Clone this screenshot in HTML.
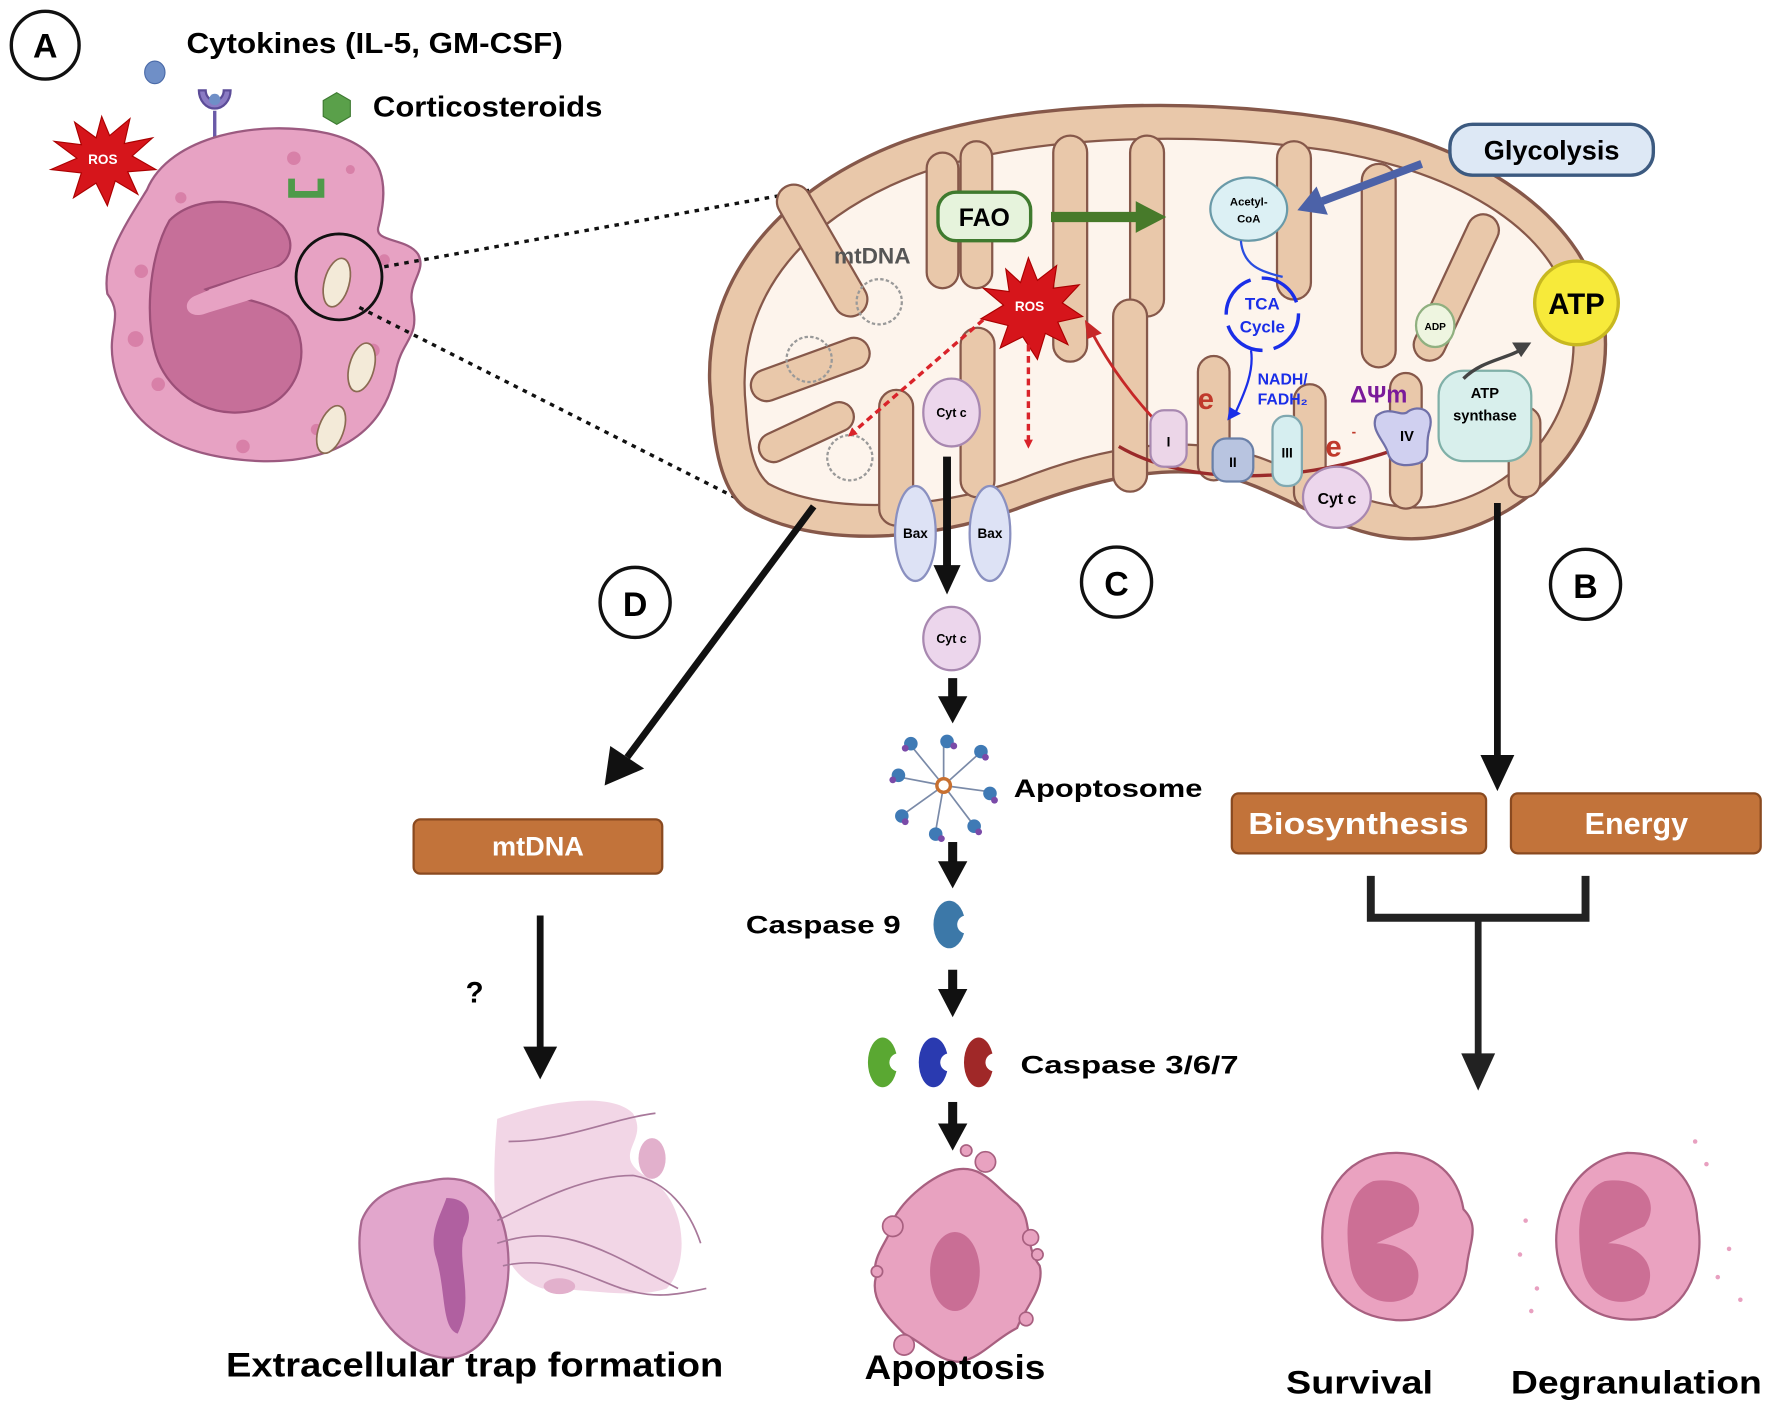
<!DOCTYPE html>
<html><head><meta charset="utf-8"><style>
html,body{margin:0;padding:0;background:#fff;}
svg{display:block;}
text{font-family:"Liberation Sans",sans-serif;font-weight:bold;}
</style></head><body>
<svg width="1772" height="1406" viewBox="0 0 1568 1244" preserveAspectRatio="none" xmlns="http://www.w3.org/2000/svg">
<defs>
<marker id="rd" markerWidth="8" markerHeight="8" refX="6" refY="4" orient="auto" markerUnits="userSpaceOnUse"><path d="M0,0 L8,4 L0,8z" fill="#d9232a"/></marker>
</defs>
<rect width="1568" height="1244" fill="#fff"/>

<!-- A cell -->
<circle cx="40" cy="40" r="30" fill="#fff" stroke="#111" stroke-width="3"/>
<text x="40" y="51" font-size="30" text-anchor="middle">A</text>
<text x="165" y="47" font-size="25" textLength="333" lengthAdjust="spacingAndGlyphs">Cytokines (IL-5, GM-CSF)</text>
<ellipse cx="137" cy="64" rx="9" ry="10" fill="#6f8fc7" stroke="#4a6aa8"/>
<line x1="190" y1="98" x2="190" y2="170" stroke="#6a5aa8" stroke-width="3"/>
<path d="M176,80 A14,16 0 0 0 204,80 L198,80 A8,9 0 0 1 182,80Z" fill="#8b7bc4" stroke="#5c4c98" stroke-width="2"/>
<circle cx="190" cy="88" r="5" fill="#6f8fc7"/>
<polygon points="298,82 310,89 310,103 298,110 286,103 286,89" fill="#5aa04a" stroke="#3e7a32"/>
<text x="330" y="103" font-size="25" textLength="203" lengthAdjust="spacingAndGlyphs">Corticosteroids</text>

<path d="M130,168 C150,120 230,105 290,118 C340,130 345,160 335,200 C330,215 360,210 370,225 C378,240 360,250 365,270 C372,300 355,300 350,330 C340,380 300,410 230,408 C160,405 110,380 100,320 C95,290 110,280 95,260 C90,230 110,200 130,168Z" fill="#e7a2c3" stroke="#9c5a80" stroke-width="2"/>
<path d="M150,195 C175,170 225,175 250,200 C262,215 258,232 240,238 C215,245 200,250 182,256 C190,262 230,262 255,280 C275,300 270,345 235,360 C195,375 155,355 140,320 C128,290 130,230 150,195Z" fill="#c66f99" stroke="#9c4f78" stroke-width="2"/>
<path d="M172,262 C200,250 230,240 262,232 C275,230 278,245 265,250 C235,262 205,270 180,278 C165,282 160,268 172,262Z" fill="#e7a2c3"/>
<g fill="#d880a8"><circle cx="125" cy="240" r="6"/><circle cx="120" cy="300" r="7"/><circle cx="140" cy="340" r="6"/><circle cx="215" cy="395" r="6"/><circle cx="280" cy="380" r="5"/><circle cx="330" cy="310" r="6"/><circle cx="340" cy="230" r="5"/><circle cx="260" cy="140" r="6"/><circle cx="160" cy="175" r="5"/><circle cx="310" cy="150" r="4"/></g>
<path d="M258,158 v14 h26 v-14" fill="none" stroke="#4f9a4a" stroke-width="6"/>
<g fill="#f3ead8" stroke="#8a6a52" stroke-width="1.5"><ellipse cx="298" cy="250" rx="11" ry="22" transform="rotate(15 298 250)"/><ellipse cx="320" cy="325" rx="11" ry="22" transform="rotate(15 320 325)"/><ellipse cx="293" cy="380" rx="11" ry="22" transform="rotate(20 293 380)"/></g>
<circle cx="300" cy="245" r="38" fill="none" stroke="#111" stroke-width="2.5"/>
<line x1="340" y1="236" x2="735" y2="165" stroke="#111" stroke-width="3" stroke-dasharray="4,5"/>
<line x1="318" y1="272" x2="680" y2="455" stroke="#111" stroke-width="3" stroke-dasharray="4,5"/>
<polygon points="90,103 97,120 115,105 110,127 135,122 117,138 138,150 113,152 122,172 102,160 95,182 85,162 65,175 72,153 45,150 68,140 48,125 72,128 66,108 85,122" fill="#d6151b" stroke="#a00"/>
<text x="91" y="145" font-size="12" fill="#fff" text-anchor="middle">ROS</text>

<!-- Mitochondrion -->
<path d="M630,360 C615,260 680,170 800,125 C900,90 1050,85 1180,105 C1300,125 1410,190 1420,290 C1428,380 1360,460 1270,475 C1210,485 1160,450 1110,430 C1050,405 980,420 900,450 C820,480 720,485 660,450 C640,435 632,400 630,360Z" fill="#e9c8aa" stroke="#86584a" stroke-width="3"/>
<path d="M660,360 C650,270 705,195 810,155 C905,120 1050,115 1175,133 C1290,152 1385,205 1392,290 C1398,370 1345,435 1270,448 C1215,455 1170,425 1115,405 C1050,382 975,395 900,425 C825,452 730,455 680,428 C665,415 662,390 660,360Z" fill="#fdf4ec" stroke="#86584a" stroke-width="2"/>
<g fill="#e9c8aa" stroke="#86584a" stroke-width="2">
<rect x="700" y="160" width="30" height="130" rx="15" transform="rotate(-30 715 200)"/>
<rect x="820" y="135" width="28" height="120" rx="14"/>
<rect x="850" y="125" width="28" height="130" rx="14"/>
<rect x="932" y="120" width="30" height="200" rx="15"/>
<rect x="1000" y="120" width="30" height="160" rx="15"/>
<rect x="1130" y="125" width="30" height="140" rx="15"/>
<rect x="1205" y="145" width="30" height="180" rx="15"/>
<rect x="1300" y="190" width="28" height="140" rx="14" transform="rotate(25 1314 200)"/>
<rect x="665" y="330" width="110" height="28" rx="14" transform="rotate(-20 670 344)"/>
<rect x="672" y="385" width="90" height="26" rx="13" transform="rotate(-25 680 398)"/>
<rect x="778" y="345" width="30" height="120" rx="15"/>
<rect x="850" y="290" width="30" height="150" rx="15"/>
<rect x="985" y="265" width="30" height="170" rx="15"/>
<rect x="1060" y="315" width="28" height="110" rx="14"/>
<rect x="1145" y="340" width="28" height="110" rx="14"/>
<rect x="1230" y="330" width="28" height="120" rx="14"/>
<rect x="1335" y="360" width="28" height="80" rx="14"/>
</g>
<g fill="none" stroke="#999" stroke-width="2" stroke-dasharray="3,2"><circle cx="778" cy="267" r="20"/><circle cx="716" cy="318" r="20"/><circle cx="752" cy="405" r="20"/></g>
<text x="738" y="233" font-size="20" fill="#555">mtDNA</text>
<rect x="830" y="170" width="82" height="43" rx="16" fill="#e6f3dc" stroke="#3f7a2e" stroke-width="3"/>
<text x="871" y="200" font-size="22" text-anchor="middle">FAO</text>
<line x1="930" y1="192" x2="1008" y2="192" stroke="#477a2a" stroke-width="9"/>
<polygon points="1005,178 1032,192 1005,206" fill="#477a2a"/>
<ellipse cx="1105" cy="185" rx="34" ry="28" fill="#dcf0f4" stroke="#6a9aa8" stroke-width="2"/>
<text x="1105" y="182" font-size="10" text-anchor="middle">Acetyl-</text>
<text x="1105" y="197" font-size="10" text-anchor="middle">CoA</text>
<rect x="1283" y="110" width="180" height="45" rx="20" fill="#dde8f5" stroke="#3c5a80" stroke-width="3"/>
<text x="1373" y="141" font-size="24" text-anchor="middle">Glycolysis</text>
<line x1="1258" y1="145" x2="1170" y2="178" stroke="#4c62a8" stroke-width="7"/>
<polygon points="1148,186 1165,165 1175,190" fill="#4c62a8"/>
<path d="M1098,213 C1100,235 1115,240 1135,245" fill="none" stroke="#2a4ee0" stroke-width="2"/>
<circle cx="1117" cy="278" r="32" fill="none" stroke="#1a2ee8" stroke-width="3" stroke-dasharray="40,10"/>
<text x="1117" y="274" font-size="15" fill="#1a2ee8" text-anchor="middle">TCA</text>
<text x="1117" y="294" font-size="15" fill="#1a2ee8" text-anchor="middle">Cycle</text>
<path d="M1107,310 C1110,330 1100,350 1092,368" fill="none" stroke="#1a2ee8" stroke-width="2"/>
<polygon points="1086,372 1088,360 1098,366" fill="#1a2ee8"/>
<text x="1135" y="340" font-size="14" fill="#1a2ee8" text-anchor="middle">NADH/</text>
<text x="1135" y="358" font-size="14" fill="#1a2ee8" text-anchor="middle">FADH₂</text>
<text x="1220" y="356" font-size="21" fill="#7a1a9a" text-anchor="middle">ΔΨm</text>
<polygon points="910,228 918,248 935,235 932,255 955,252 940,268 958,280 936,285 945,305 925,295 918,318 905,298 885,308 892,288 868,282 888,270 870,255 893,258 890,238 903,250" fill="#d6151b" stroke="#a00"/>
<text x="911" y="275" font-size="12" fill="#fff" text-anchor="middle">ROS</text>
<path d="M870,283 L752,385" stroke="#d9232a" stroke-width="3" stroke-dasharray="6,4" marker-end="url(#rd)"/>
<path d="M910,305 L910,395" stroke="#d9232a" stroke-width="3" stroke-dasharray="6,4" marker-end="url(#rd)"/>
<path d="M1030,380 C1000,350 980,320 965,292" fill="none" stroke="#c62828" stroke-width="2.5"/>
<polygon points="960,283 975,295 962,300" fill="#c62828"/>
<path d="M990,395 C1050,430 1150,430 1248,393" fill="none" stroke="#9a2a2a" stroke-width="3"/>
<polygon points="1256,388 1240,388 1246,400" fill="#9a2a2a"/>
<text x="1067" y="362" font-size="26" fill="#c0392b" text-anchor="middle">e</text>
<text x="1180" y="404" font-size="26" fill="#c0392b" text-anchor="middle">e</text>
<text x="1196" y="386" font-size="12" fill="#c0392b">-</text>
<rect x="1018" y="363" width="32" height="50" rx="12" fill="#ecd6e8" stroke="#a888b0" stroke-width="2"/>
<text x="1034" y="395" font-size="12" text-anchor="middle">I</text>
<rect x="1073" y="388" width="36" height="38" rx="12" fill="#b8c4e0" stroke="#6a80a8" stroke-width="2"/>
<text x="1091" y="413" font-size="12" text-anchor="middle">II</text>
<rect x="1126" y="368" width="26" height="62" rx="12" fill="#d6eef0" stroke="#80a8b0" stroke-width="2"/>
<text x="1139" y="405" font-size="12" text-anchor="middle">III</text>
<path d="M1218,368 C1230,358 1240,370 1246,364 C1255,358 1270,362 1265,380 C1260,395 1268,405 1255,410 C1240,414 1230,410 1228,400 C1225,390 1212,380 1218,368Z" fill="#d0d0f0" stroke="#7070a8" stroke-width="2"/>
<text x="1245" y="390" font-size="13" text-anchor="middle">IV</text>
<ellipse cx="1183" cy="440" rx="30" ry="27" fill="#ecd6ec" stroke="#a888b0" stroke-width="2"/>
<text x="1183" y="446" font-size="14" text-anchor="middle">Cyt c</text>
<rect x="1273" y="328" width="82" height="80" rx="22" fill="#d8efec" stroke="#80b0a8" stroke-width="2"/>
<text x="1314" y="352" font-size="13" text-anchor="middle">ATP</text>
<text x="1314" y="372" font-size="13" text-anchor="middle">synthase</text>
<ellipse cx="1270" cy="288" rx="17" ry="19" fill="#eef5e0" stroke="#90b080" stroke-width="2"/>
<text x="1270" y="292" font-size="9" text-anchor="middle">ADP</text>
<path d="M1295,335 C1310,320 1330,318 1345,310" fill="none" stroke="#444" stroke-width="3"/>
<polygon points="1355,303 1338,303 1346,316" fill="#444"/>
<circle cx="1395" cy="268" r="37" fill="#f7ea3a" stroke="#c8b820" stroke-width="3"/>
<text x="1395" y="278" font-size="26" text-anchor="middle">ATP</text>
<ellipse cx="842" cy="365" rx="25" ry="30" fill="#ecd6ec" stroke="#a888b0" stroke-width="2"/>
<text x="842" y="369" font-size="11" text-anchor="middle">Cyt c</text>
<ellipse cx="810" cy="472" rx="18" ry="42" fill="#dde2f5" stroke="#8a90c0" stroke-width="2"/>
<ellipse cx="876" cy="472" rx="18" ry="42" fill="#dde2f5" stroke="#8a90c0" stroke-width="2"/>
<text x="810" y="476" font-size="12" text-anchor="middle">Bax</text>
<text x="876" y="476" font-size="12" text-anchor="middle">Bax</text>

<!-- main arrows -->
<line x1="838" y1="404" x2="838" y2="505" stroke="#111" stroke-width="7"/>
<polygon points="826,500 850,500 838,526" fill="#111"/>
<line x1="720" y1="448" x2="555" y2="670" stroke="#111" stroke-width="6"/>
<polygon points="535,695 540,660 570,680" fill="#111"/>
<line x1="1325" y1="445" x2="1325" y2="672" stroke="#111" stroke-width="6"/>
<polygon points="1310,668 1340,668 1325,700" fill="#111"/>

<g fill="#fff" stroke="#111" stroke-width="3">
<circle cx="988" cy="515" r="31"/><circle cx="1403" cy="517" r="31"/><circle cx="562" cy="533" r="31"/></g>
<text x="988" y="527" font-size="30" text-anchor="middle">C</text>
<text x="1403" y="529" font-size="30" text-anchor="middle">B</text>
<text x="562" y="545" font-size="30" text-anchor="middle">D</text>

<!-- C pathway -->
<ellipse cx="842" cy="565" rx="25" ry="28" fill="#ecd6ec" stroke="#a888b0" stroke-width="2"/>
<text x="842" y="569" font-size="11" text-anchor="middle">Cyt c</text>
<g fill="#111">
<rect x="839" y="600" width="8" height="18"/><polygon points="830,616 856,616 843,640"/>
<rect x="839" y="745" width="8" height="20"/><polygon points="830,762 856,762 843,786"/>
<rect x="839" y="858" width="8" height="20"/><polygon points="830,875 856,875 843,900"/>
<rect x="839" y="975" width="8" height="22"/><polygon points="830,994 856,994 843,1018"/>
</g>
<g stroke="#7a8aa8" stroke-width="1.5" fill="none">
<path d="M835,695 L835,660 M835,695 L865,668 M835,695 L872,700 M835,695 L860,728 M835,695 L828,735 M835,695 L800,720 M835,695 L798,688 M835,695 L808,662"/></g>
<g fill="#3f7ab5"><circle cx="838" cy="656" r="6"/><circle cx="868" cy="665" r="6"/><circle cx="876" cy="702" r="6"/><circle cx="862" cy="731" r="6"/><circle cx="828" cy="738" r="6"/><circle cx="798" cy="722" r="6"/><circle cx="795" cy="686" r="6"/><circle cx="806" cy="658" r="6"/></g>
<g fill="#7a4aa8"><circle cx="844" cy="660" r="3"/><circle cx="872" cy="670" r="3"/><circle cx="880" cy="708" r="3"/><circle cx="866" cy="736" r="3"/><circle cx="833" cy="742" r="3"/><circle cx="801" cy="727" r="3"/><circle cx="790" cy="690" r="3"/><circle cx="801" cy="662" r="3"/></g>
<circle cx="835" cy="695" r="6" fill="#fff" stroke="#c87030" stroke-width="3"/>
<text x="897" y="705" font-size="22" textLength="167" lengthAdjust="spacingAndGlyphs">Apoptosome</text>
<text x="660" y="826" font-size="22" textLength="137" lengthAdjust="spacingAndGlyphs">Caspase 9</text>
<ellipse cx="840" cy="818" rx="14" ry="21" fill="#3c78a8"/><circle cx="855" cy="818" r="8" fill="#fff"/>
<ellipse cx="781" cy="940" rx="13" ry="22" fill="#5aa832"/><circle cx="795" cy="940" r="8" fill="#fff"/>
<ellipse cx="826" cy="940" rx="13" ry="22" fill="#2a3ab0"/><circle cx="840" cy="940" r="8" fill="#fff"/>
<ellipse cx="866" cy="940" rx="13" ry="22" fill="#a02828"/><circle cx="880" cy="940" r="8" fill="#fff"/>
<text x="903" y="950" font-size="22" textLength="193" lengthAdjust="spacingAndGlyphs">Caspase 3/6/7</text>
<path d="M845,1035 C870,1030 880,1050 900,1065 C915,1080 905,1100 920,1120 C925,1140 905,1160 900,1175 C880,1185 870,1200 850,1205 C830,1205 820,1190 800,1180 C785,1165 770,1150 775,1130 C770,1110 790,1095 790,1080 C800,1060 825,1040 845,1035Z" fill="#e8a2c0" stroke="#a86080" stroke-width="2"/>
<g fill="#e8a2c0" stroke="#a86080" stroke-width="1.5"><circle cx="872" cy="1028" r="9"/><circle cx="855" cy="1018" r="5"/><circle cx="790" cy="1085" r="9"/><circle cx="912" cy="1095" r="7"/><circle cx="918" cy="1110" r="5"/><circle cx="776" cy="1125" r="5"/><circle cx="800" cy="1190" r="9"/><circle cx="908" cy="1167" r="6"/></g>
<ellipse cx="845" cy="1125" rx="22" ry="35" fill="#c96e95"/>
<text x="845" y="1220" font-size="30" text-anchor="middle" textLength="160" lengthAdjust="spacingAndGlyphs">Apoptosis</text>

<!-- D pathway -->
<rect x="366" y="725" width="220" height="48" rx="6" fill="#c2733a" stroke="#8a4a20" stroke-width="2"/>
<text x="476" y="757" font-size="24" fill="#fff" text-anchor="middle">mtDNA</text>
<line x1="478" y1="810" x2="478" y2="930" stroke="#111" stroke-width="6"/>
<polygon points="463,926 493,926 478,955" fill="#111"/>
<text x="420" y="887" font-size="26" text-anchor="middle">?</text>
<path d="M440,990 C480,975 540,965 560,985 C575,1010 540,1020 570,1040 C610,1060 610,1120 590,1140 C560,1150 520,1140 480,1140 C450,1130 430,1100 440,990Z" fill="#f0cfe2" opacity="0.85"/>
<ellipse cx="577" cy="1025" rx="12" ry="18" fill="#e2b0cc"/>
<path d="M380,1045 C420,1035 450,1060 450,1120 C450,1170 420,1210 385,1200 C340,1190 310,1130 320,1080 C330,1055 355,1048 380,1045Z" fill="#e2a6cc" stroke="#a86890" stroke-width="2"/>
<path d="M395,1060 C415,1060 420,1075 410,1095 C405,1120 420,1150 405,1180 C390,1175 395,1140 385,1110 C380,1090 390,1075 395,1060Z" fill="#b060a0"/>
<g fill="none" stroke="#a8789a" stroke-width="1.5"><path d="M440,1080 C480,1060 520,1040 560,1040 C590,1045 610,1070 620,1100"/><path d="M440,1100 C500,1080 540,1110 600,1140"/><path d="M450,1010 C500,1010 540,990 580,985"/><path d="M445,1120 C490,1110 520,1130 550,1140 C580,1150 600,1145 625,1140"/></g>
<ellipse cx="495" cy="1138" rx="14" ry="7" fill="#e2b0cc"/>
<text x="420" y="1218" font-size="30" text-anchor="middle" textLength="440" lengthAdjust="spacingAndGlyphs">Extracellular trap formation</text>

<!-- B pathway -->
<rect x="1090" y="702" width="225" height="53" rx="6" fill="#c2733a" stroke="#8a4a20" stroke-width="2"/>
<text x="1202" y="738" font-size="27" fill="#fff" text-anchor="middle" textLength="195" lengthAdjust="spacingAndGlyphs">Biosynthesis</text>
<rect x="1337" y="702" width="221" height="53" rx="6" fill="#c2733a" stroke="#8a4a20" stroke-width="2"/>
<text x="1448" y="738" font-size="27" fill="#fff" text-anchor="middle">Energy</text>
<path d="M1213,775 V812 H1403 V775" fill="none" stroke="#222" stroke-width="7"/>
<line x1="1308" y1="812" x2="1308" y2="935" stroke="#222" stroke-width="6"/>
<polygon points="1293,932 1323,932 1308,965" fill="#222"/>
<path d="M1235,1020 C1270,1020 1290,1040 1295,1070 C1310,1085 1300,1100 1298,1120 C1295,1150 1270,1170 1235,1168 C1195,1165 1170,1140 1170,1095 C1170,1050 1195,1020 1235,1020Z" fill="#eaa2c0" stroke="#a86080" stroke-width="2"/>
<path d="M1215,1045 C1250,1040 1265,1065 1250,1085 L1218,1100 C1245,1100 1265,1120 1250,1145 C1230,1160 1200,1150 1195,1120 C1190,1090 1190,1055 1215,1045Z" fill="#cc6f95"/>
<path d="M1440,1020 C1480,1020 1500,1045 1502,1080 C1508,1110 1500,1150 1465,1165 C1420,1175 1385,1155 1378,1110 C1372,1070 1395,1025 1440,1020Z" fill="#eaa2c0" stroke="#a86080" stroke-width="2"/>
<path d="M1420,1045 C1455,1040 1470,1065 1455,1085 L1423,1100 C1450,1100 1470,1120 1455,1145 C1435,1160 1405,1150 1400,1120 C1395,1090 1395,1055 1420,1045Z" fill="#cc6f95"/>
<g fill="#e8a0c0"><circle cx="1350" cy="1080" r="2"/><circle cx="1345" cy="1110" r="2"/><circle cx="1360" cy="1140" r="2"/><circle cx="1520" cy="1130" r="2"/><circle cx="1530" cy="1105" r="2"/><circle cx="1510" cy="1030" r="2"/><circle cx="1500" cy="1010" r="2"/><circle cx="1355" cy="1160" r="2"/><circle cx="1540" cy="1150" r="2"/></g>
<text x="1203" y="1233" font-size="29" text-anchor="middle" textLength="130" lengthAdjust="spacingAndGlyphs">Survival</text>
<text x="1448" y="1233" font-size="29" text-anchor="middle" textLength="222" lengthAdjust="spacingAndGlyphs">Degranulation</text>
</svg>
</body></html>
